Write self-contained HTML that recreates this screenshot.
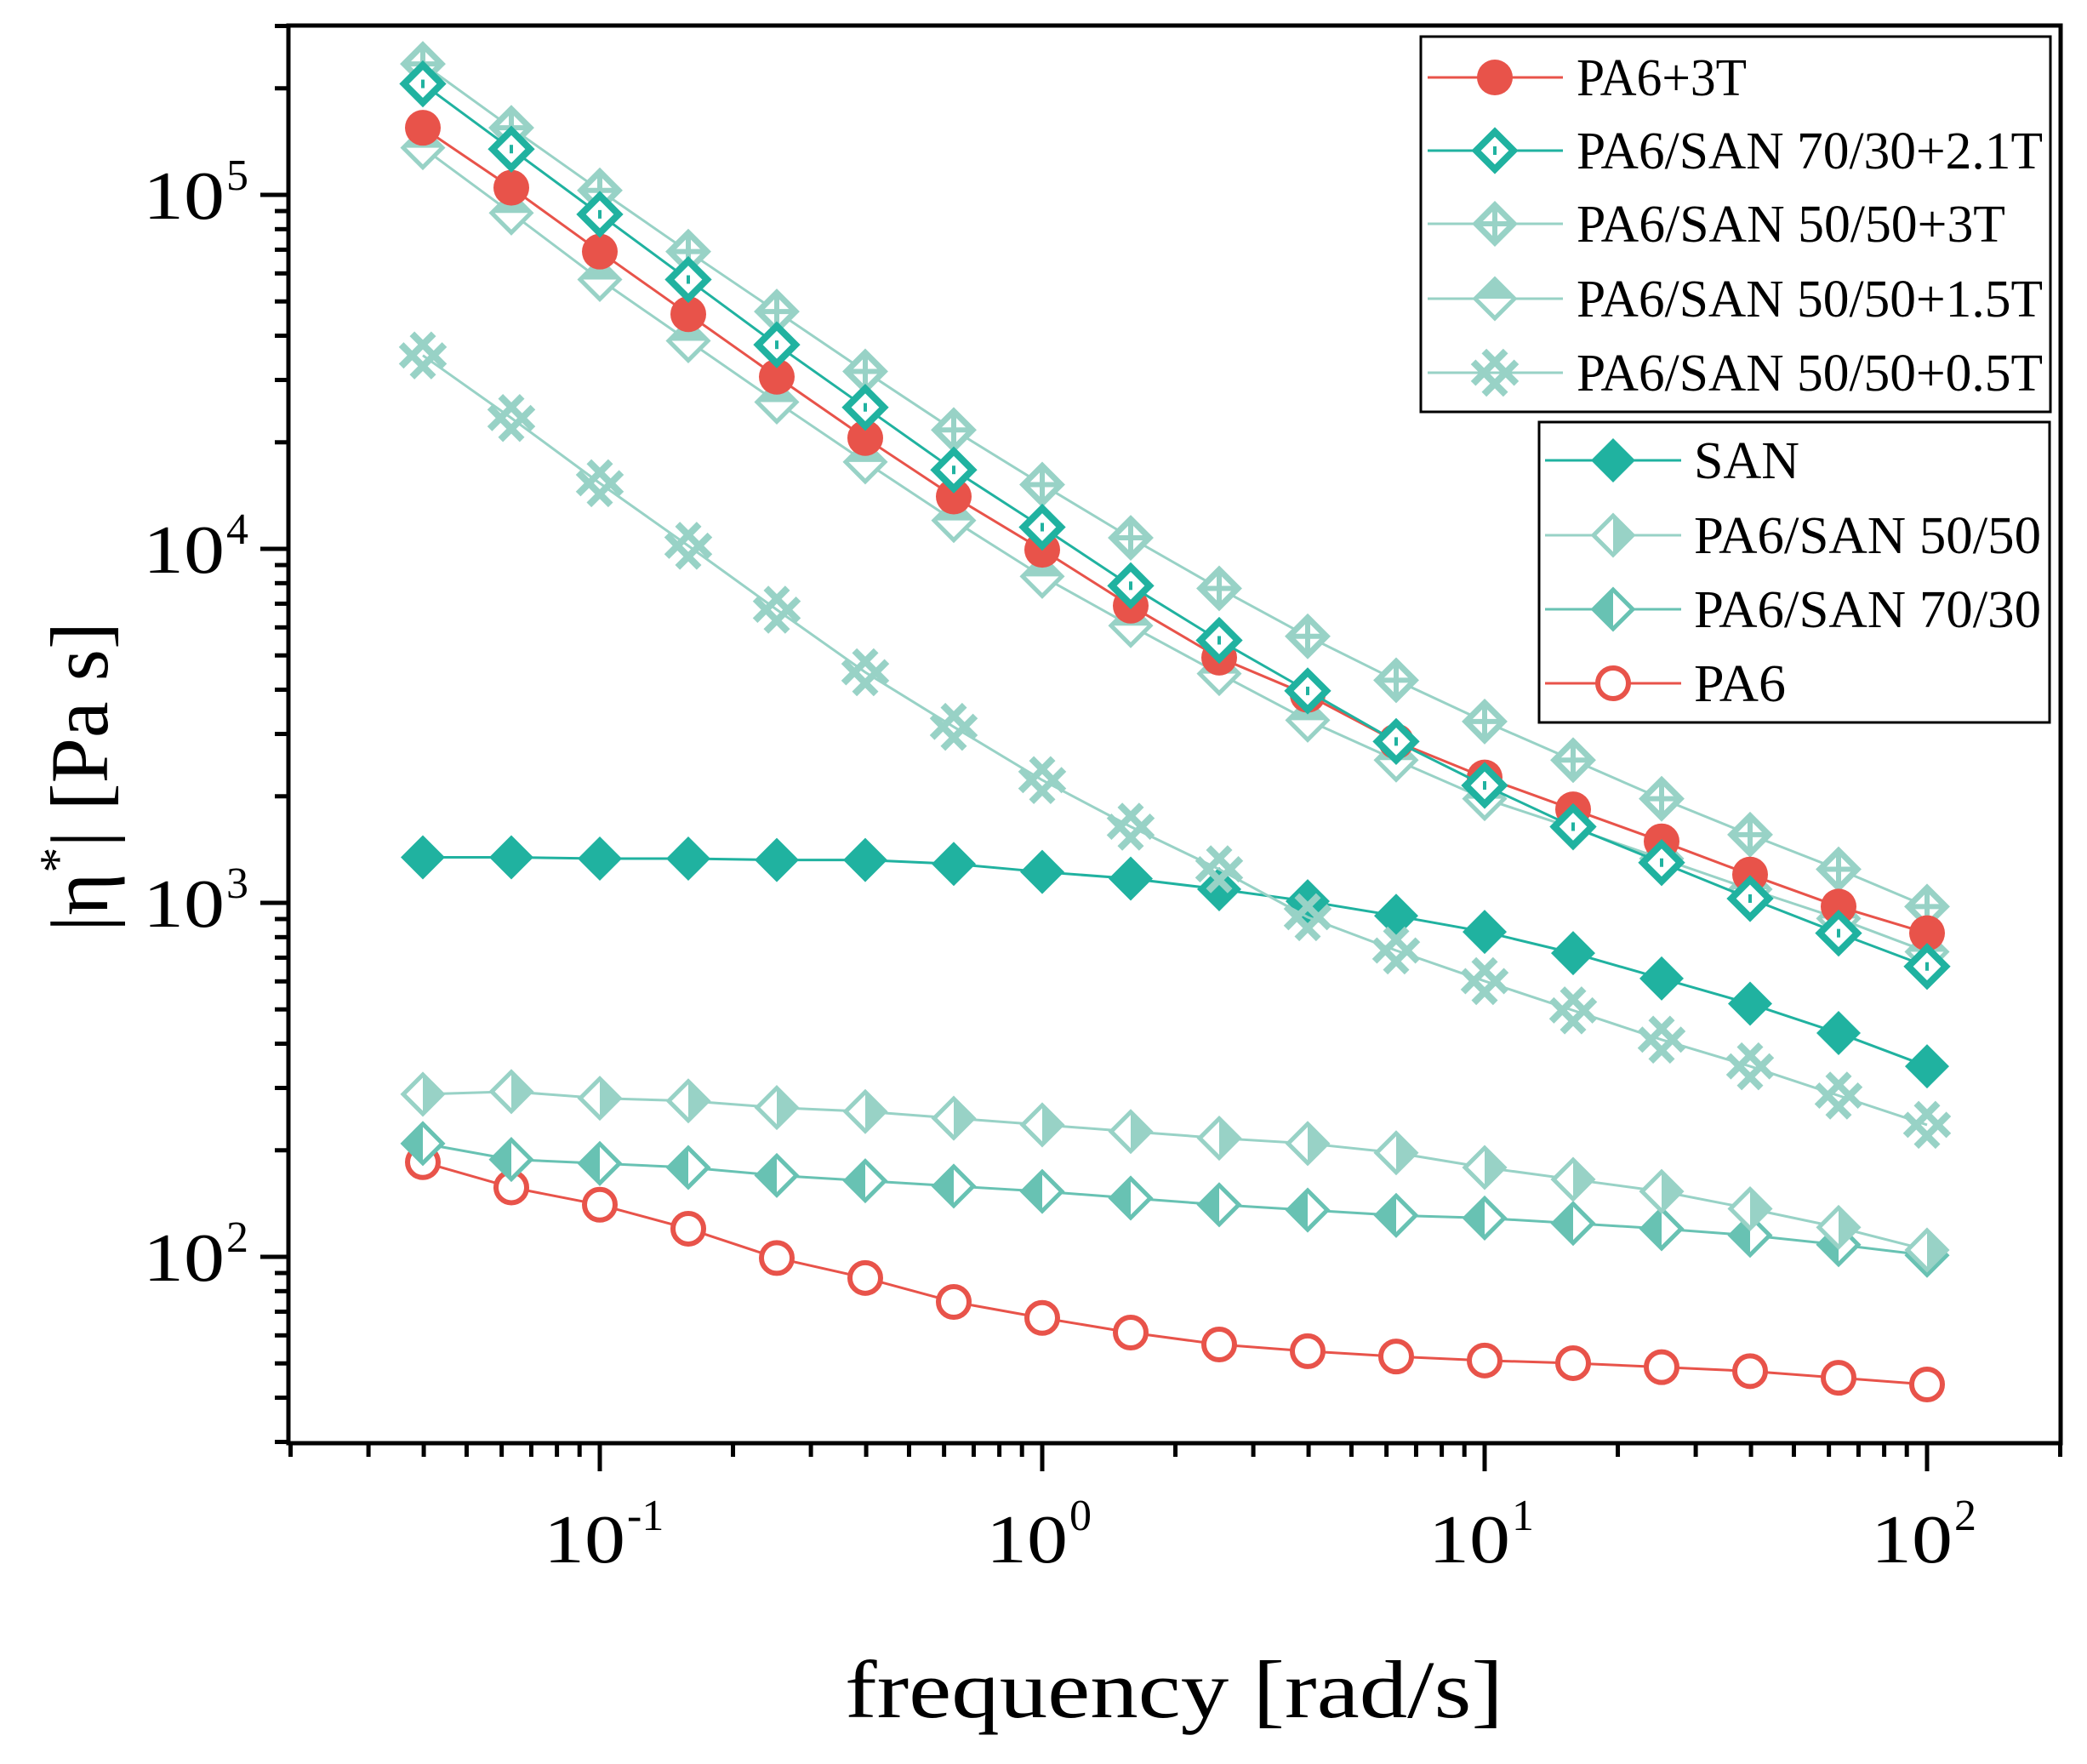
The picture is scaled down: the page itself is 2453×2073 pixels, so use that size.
<!DOCTYPE html>
<html><head><meta charset="utf-8"><style>html,body{margin:0;padding:0;background:#fff}svg{display:block}</style></head>
<body>
<svg id="s" width="2453" height="2073" viewBox="0 0 2453 2073" xmlns="http://www.w3.org/2000/svg" font-family="'Liberation Serif', serif"></svg>
<script>
const S=document.getElementById('s');let h='';
const L=339,R=2422,T=30,B=1696;
const X=lg=>705+520*(lg+1), Y=lg=>229+416*(5-lg);
const RED='#E8534A',TEAL='#20B2A0',LIGHT='#98D2C6',MED='#68C2B3';
for(let d=-2;d<=2;d++){for(let m=1;m<10;m++){const lg=d+Math.log10(m);const x=X(lg);if(x<L-1||x>R+1)continue;const len=m==1?33:16;h+=`<line x1="${x}" y1="${B}" x2="${x}" y2="${B+len}" stroke="#000" stroke-width="5"/>`;}}
for(let d=1;d<=5;d++){for(let m=1;m<10;m++){const lg=d+Math.log10(m);const y=Y(lg);if(y<T-1||y>B+1)continue;const len=m==1?33:16;h+=`<line x1="${L}" y1="${y}" x2="${L-len}" y2="${y}" stroke="#000" stroke-width="5"/>`;}}
h+=`<rect x="${L}" y="${T}" width="${R-L}" height="${B-T}" fill="none" stroke="#000" stroke-width="5"/>`;
[5,4,3,2].forEach(e=>{const y=Y(e);h+=`<text x="168" y="${y+28}" font-size="80" textLength="96" lengthAdjust="spacingAndGlyphs">10</text><text x="266" y="${y-6}" font-size="52">${e}</text>`;});
[[-1,'-1'],[0,'0'],[1,'1'],[2,'2']].forEach(([e,t])=>{const x=X(e);h+=`<text x="${x-66}" y="1836" font-size="80" textLength="96" lengthAdjust="spacingAndGlyphs">10</text><text x="${x+32}" y="1798" font-size="52">${t}</text>`;});
h+=`<text x="993" y="2018" font-size="96" textLength="774" lengthAdjust="spacingAndGlyphs">frequency [rad/s]</text>`;
h+=`<text transform="translate(126,1095) rotate(-90)" font-size="96">|η<tspan font-size="60" dy="-38">*</tspan><tspan dy="38">| [Pa s]</tspan></text>`;
function mk(type,x,y,c){const r=26;const dia=`${x},${y-r} ${x+r},${y} ${x},${y+r} ${x-r},${y}`;
switch(type){
case 'fc':return `<circle cx="${x}" cy="${y}" r="21" fill="${c}"/>`;
case 'oc':return `<circle cx="${x}" cy="${y}" r="18" fill="#fff" stroke="${c}" stroke-width="6"/>`;
case 'dd':return `<polygon points="${x},${y-22} ${x+22},${y} ${x},${y+22} ${x-22},${y}" fill="#fff" stroke="${c}" stroke-width="8"/><rect x="${x-2}" y="${y-5}" width="4" height="10" fill="${c}"/>`;
case 'dx':return `<polygon points="${x},${y-22} ${x+22},${y} ${x},${y+22} ${x-22},${y}" fill="#fff" stroke="${c}" stroke-width="7"/><line x1="${x}" y1="${y-20}" x2="${x}" y2="${y+20}" stroke="${c}" stroke-width="6"/><line x1="${x-20}" y1="${y}" x2="${x+20}" y2="${y}" stroke="${c}" stroke-width="6"/>`;
case 'dt':return `<polygon points="${x},${y-23} ${x+23},${y} ${x},${y+23} ${x-23},${y}" fill="#fff" stroke="${c}" stroke-width="5"/><polygon points="${x},${y-26} ${x+26},${y} ${x-26},${y}" fill="${c}"/>`;
case 'hs':{let s='';const a=15,o=9;[[1,1],[1,-1]].forEach(([p,q])=>{[-o,o].forEach(k=>{const cx=x+k*0.707,cy=y+k*(q>0?-0.707:0.707);s+=`<line x1="${cx-a*p*1.27}" y1="${cy-a*q*1.27}" x2="${cx+a*p*1.27}" y2="${cy+a*q*1.27}" stroke="${c}" stroke-width="8"/>`;});});return s;}
case 'fd':return `<polygon points="${dia}" fill="${c}"/>`;
case 'dr':return `<polygon points="${x},${y-23} ${x+23},${y} ${x},${y+23} ${x-23},${y}" fill="#fff" stroke="${c}" stroke-width="5"/><polygon points="${x},${y-26} ${x+26},${y} ${x},${y+26}" fill="${c}"/>`;
case 'dl':return `<polygon points="${x},${y-23} ${x+23},${y} ${x},${y+23} ${x-23},${y}" fill="#fff" stroke="${c}" stroke-width="5"/><polygon points="${x},${y-26} ${x-26},${y} ${x},${y+26}" fill="${c}"/>`;
}}
const series=[
['oc',RED,[873,892,905,923,945,960,978,990,1001,1010,1015,1019,1022,1024,1027,1030,1035,1040]],
['dl',MED,[859,871,874,877,883,887,891,895,900,905,909,913,915,919,923,928,935,943]],
['dr',LIGHT,[822,820,825,827,832,835,840,845,850,855,859,866,877,886,895,908,922,939]],
['fd',TEAL,[644,644,645,645,646,646,649,655,660,668,677,688,700,716,735,754,776,801]],
['hs',LIGHT,[267,314,363,410,458,505,546,586,621,653,689,714,737,759,781,801,823,845]],
['dt',LIGHT,[111,160,210,256,302,347,391,433,470,506,541,571,600,622,645,668,690,715]],
['dx',LIGHT,[48,96,143,189,234,279,323,364,404,442,478,511,542,571,600,627,653,681]],
['fc',RED,[96,141,189,236,283,329,373,413,455,494,522,557,584,608,632,657,681,701]],
['dd',TEAL,[63,112,161,210,259,306,353,396,440,481,519,557,590,621,648,675,701,726]]];
series.forEach(([t,c,ys])=>{const pts=ys.map((yd,i)=>[X(-1.4+0.2*i),yd*1.5644]);
h+=`<polyline points="${pts.map(p=>p.join(',')).join(' ')}" fill="none" stroke="${c}" stroke-width="3"/>`;
pts.forEach(p=>h+=mk(t,p[0],p[1],c));});
h+=`<rect x="1670" y="43" width="740" height="441" fill="#fff" stroke="#000" stroke-width="3"/>`;
h+=`<rect x="1809" y="496" width="600" height="353" fill="#fff" stroke="#000" stroke-width="3"/>`;
const l1=[['fc',RED,'PA6+3T',200],['dd',TEAL,'PA6/SAN 70/30+2.1T',548],['dx',LIGHT,'PA6/SAN 50/50+3T',504],['dt',LIGHT,'PA6/SAN 50/50+1.5T',548],['hs',LIGHT,'PA6/SAN 50/50+0.5T',548]];
const r1=[91,177,263,351,438];
l1.forEach(([t,c,s,w],i)=>{const y=r1[i];h+=`<line x1="1678" y1="${y}" x2="1837" y2="${y}" stroke="${c}" stroke-width="3"/>`+mk(t,1757,y,c)+`<text x="1853" y="${y+21}" font-size="62" textLength="${w}" lengthAdjust="spacingAndGlyphs">${s}</text>`;});
const l2=[['fd',TEAL,'SAN',124],['dr',LIGHT,'PA6/SAN 50/50',408],['dl',MED,'PA6/SAN 70/30',408],['oc',RED,'PA6',108]];
const r2=[541,629,716,803];
l2.forEach(([t,c,s,w],i)=>{const y=r2[i];h+=`<line x1="1816" y1="${y}" x2="1976" y2="${y}" stroke="${c}" stroke-width="3"/>`+mk(t,1896,y,c)+`<text x="1991" y="${y+21}" font-size="62" textLength="${w}" lengthAdjust="spacingAndGlyphs">${s}</text>`;});
S.innerHTML=h;
</script>
</body></html>
